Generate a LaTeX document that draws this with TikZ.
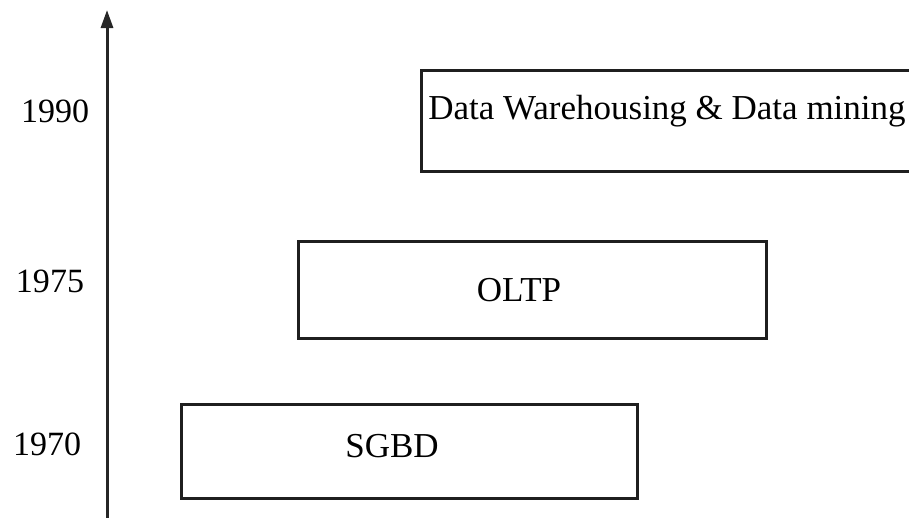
\documentclass[tikz,border=0pt]{standalone}
\usepackage{fontspec}
\setmainfont{Liberation Serif}
\usetikzlibrary{arrows.meta}
\begin{document}
\begin{tikzpicture}[x=1pt,y=-1pt,
  era/.style={draw=black!88,line width=2.8pt,rectangle,inner sep=0pt},
  lbl/.style={inner sep=0pt,font=\fontsize{35}{40}\selectfont},
  year/.style={inner sep=0pt,font=\fontsize{34}{40}\selectfont}]
\useasboundingbox (0,0) rectangle (909,517);
\begin{scope}
\clip (0,0) rectangle (909,517);
% period boxes
\node[era,minimum width=496pt,minimum height=101pt,anchor=north west] (dw) at (420,69) {};
\node[era,minimum width=468pt,minimum height=97pt,anchor=north west] (oltp) at (297,240) {};
\node[era,minimum width=456pt,minimum height=94pt,anchor=north west] (sgbd) at (180,403) {};
\end{scope}
% box captions
\node[lbl] (tdw) at (667,111) {Data Warehousing \& Data mining};
\node[lbl] (toltp) at (519,290) {OLTP};
\node[lbl] (tsgbd) at (392,446) {SGBD};
% time axis
\coordinate (abot) at (107,520);
\coordinate (atop) at (107,10);
\draw[line width=3pt,draw=black!85,-{Triangle[length=18pt,width=12pt]}] (abot) -- (atop);
% years
\node[year] (y90) at (55,111) {1990};
\node[year] (y75) at (50,281) {1975};
\node[year] (y70) at (47,444) {1970};
\end{tikzpicture}
\end{document}
